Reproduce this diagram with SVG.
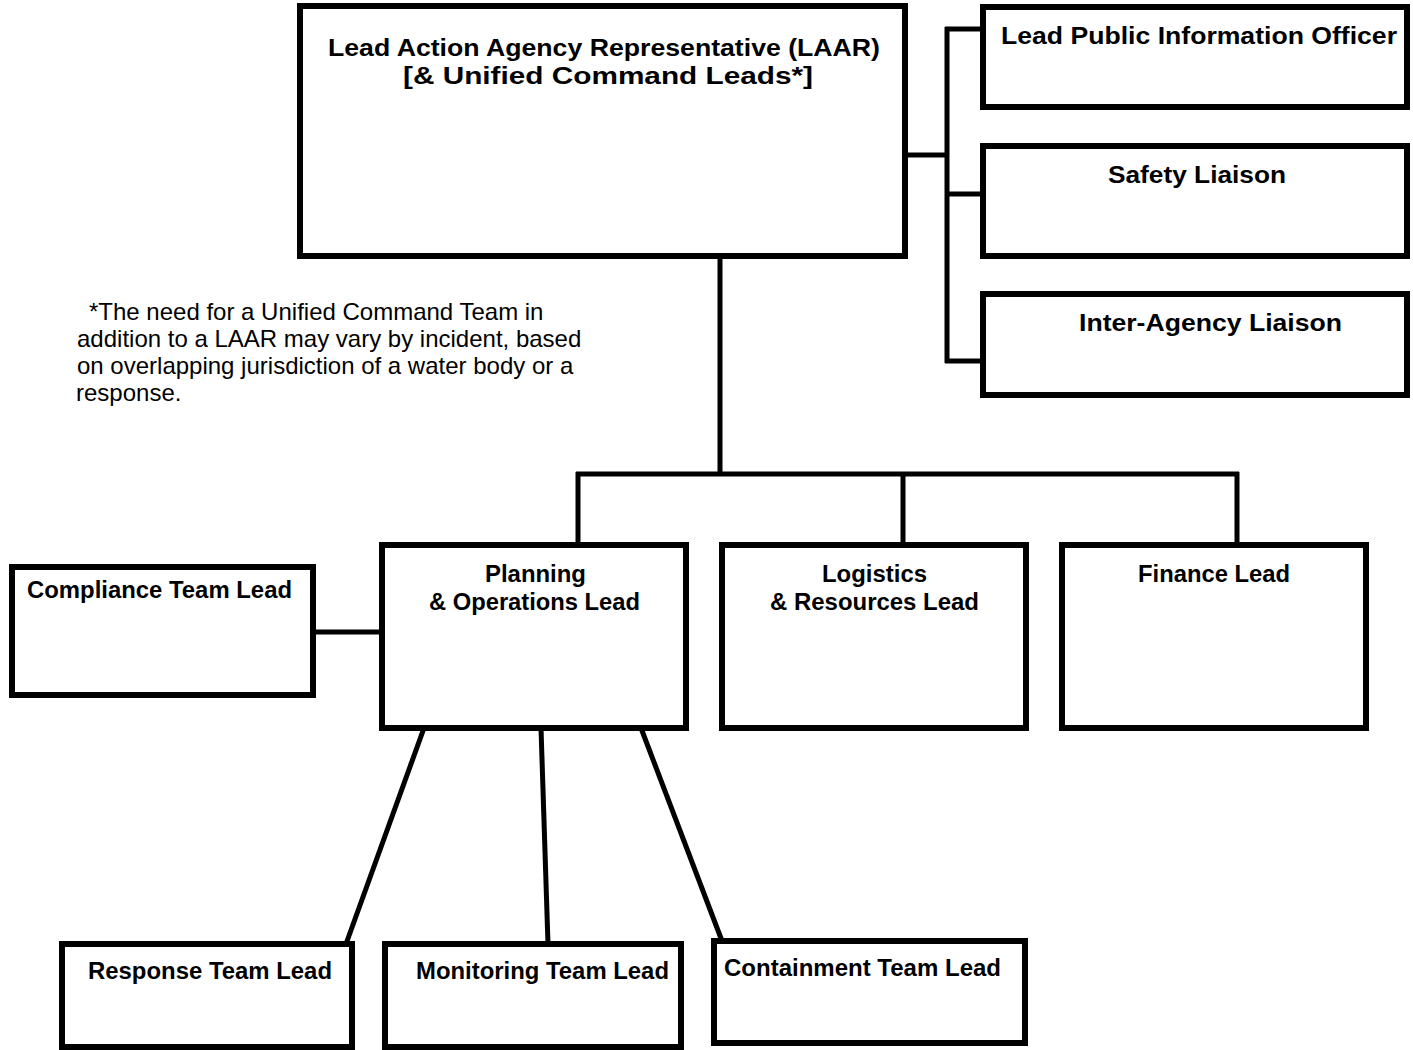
<svg xmlns="http://www.w3.org/2000/svg" width="1413" height="1050" viewBox="0 0 1413 1050">
<style>
.box{fill:#fff;stroke:#000;stroke-width:6}
.ln{stroke:#000;stroke-width:5;fill:none}
.t{font-family:"Liberation Sans",Arial,sans-serif;font-weight:bold;font-size:23px;fill:#000}
.n{font-family:"Liberation Sans",Arial,sans-serif;font-size:24px;fill:#000}
</style>
<rect width="1413" height="1050" fill="#fff"/>
<g id="connectors">
<line class="ln" x1="905" y1="155" x2="947" y2="155"/>
<line class="ln" x1="947" y1="27" x2="947" y2="363"/>
<line class="ln" x1="945" y1="29" x2="983" y2="29"/>
<line class="ln" x1="945" y1="194" x2="983" y2="194"/>
<line class="ln" x1="945" y1="361" x2="983" y2="361"/>
<line class="ln" x1="720" y1="256" x2="720" y2="474"/>
<line class="ln" x1="576" y1="474" x2="1239" y2="474"/>
<line class="ln" x1="578" y1="472" x2="578" y2="545"/>
<line class="ln" x1="903" y1="472" x2="903" y2="545"/>
<line class="ln" x1="1237" y1="472" x2="1237" y2="545"/>
<line class="ln" x1="313" y1="632" x2="382" y2="632"/>
<line class="ln" x1="424" y1="728" x2="346" y2="944"/>
<line class="ln" x1="541" y1="728" x2="548" y2="944"/>
<line class="ln" x1="641" y1="728" x2="722" y2="941"/>
</g>
<g id="laar">
<rect class="box" x="300" y="6" width="605" height="250"/>
<text class="t" x="328" y="56" textLength="552" lengthAdjust="spacingAndGlyphs">Lead Action Agency Representative (LAAR)</text>
<text class="t" x="403" y="84" textLength="410" lengthAdjust="spacingAndGlyphs">[&amp; Unified Command Leads*]</text>
</g>
<g id="pio">
<rect class="box" x="983" y="7" width="424" height="100"/>
<text class="t" x="1001" y="44" textLength="396" lengthAdjust="spacingAndGlyphs">Lead Public Information Officer</text>
</g>
<g id="safety">
<rect class="box" x="983" y="146" width="424" height="110"/>
<text class="t" x="1108" y="183" textLength="178" lengthAdjust="spacingAndGlyphs">Safety Liaison</text>
</g>
<g id="interagency">
<rect class="box" x="983" y="294" width="424" height="101"/>
<text class="t" x="1079" y="331" textLength="263" lengthAdjust="spacingAndGlyphs">Inter-Agency Liaison</text>
</g>
<g id="footnote">
<text class="n" x="89" y="320">*The need for a Unified Command Team in</text>
<text class="n" x="77" y="347">addition to a LAAR may vary by incident, based</text>
<text class="n" x="77" y="374">on overlapping jurisdiction of a water body or a</text>
<text class="n" x="76" y="401">response.</text>
</g>
<g id="compliance">
<rect class="box" x="12" y="567" width="301" height="128"/>
<text class="t" x="27" y="598" textLength="265" lengthAdjust="spacingAndGlyphs">Compliance Team Lead</text>
</g>
<g id="planning">
<rect class="box" x="382" y="545" width="304" height="183"/>
<text class="t" x="485" y="582" textLength="101" lengthAdjust="spacingAndGlyphs">Planning</text>
<text class="t" x="429" y="610" textLength="211" lengthAdjust="spacingAndGlyphs">&amp; Operations Lead</text>
</g>
<g id="logistics">
<rect class="box" x="722" y="545" width="304" height="183"/>
<text class="t" x="822" y="582" textLength="105" lengthAdjust="spacingAndGlyphs">Logistics</text>
<text class="t" x="770" y="610" textLength="209" lengthAdjust="spacingAndGlyphs">&amp; Resources Lead</text>
</g>
<g id="finance">
<rect class="box" x="1062" y="545" width="304" height="183"/>
<text class="t" x="1138" y="582" textLength="152" lengthAdjust="spacingAndGlyphs">Finance Lead</text>
</g>
<g id="response">
<rect class="box" x="62" y="944" width="290" height="103"/>
<text class="t" x="88" y="979" textLength="244" lengthAdjust="spacingAndGlyphs">Response Team Lead</text>
</g>
<g id="monitoring">
<rect class="box" x="385" y="944" width="296" height="103"/>
<text class="t" x="416" y="979" textLength="253" lengthAdjust="spacingAndGlyphs">Monitoring Team Lead</text>
</g>
<g id="containment">
<rect class="box" x="714" y="941" width="311" height="102"/>
<text class="t" x="724" y="976" textLength="277" lengthAdjust="spacingAndGlyphs">Containment Team Lead</text>
</g>
</svg>
